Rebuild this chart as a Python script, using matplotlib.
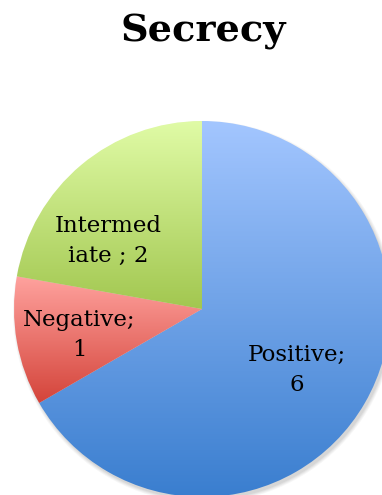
import matplotlib
matplotlib.use("Agg")
import matplotlib.pyplot as plt
import numpy as np
from matplotlib.colors import LinearSegmentedColormap
from matplotlib.patches import Circle

labels = ["Positive", "Negative", "Intermed\niate "]
values = [6, 1, 2]
title = "Secrecy"

# top / bottom colours of each slice's vertical gradient
grad_top = ["#a3c6ff", "#ffa29e", "#e0fba6"]
grad_bot = ["#3a7ecf", "#d4443a", "#a2c750"]

W, H = 382, 495
fig = plt.figure(figsize=(W / 100, H / 100), dpi=100)
ax = fig.add_axes([0, 0, 1, 1])
ax.set_xlim(0, W)
ax.set_ylim(0, H)
ax.set_aspect("equal")
ax.axis("off")

cx, cy, r = 202, H - 309, 188

# soft drop shadow
for i, a in enumerate([0.05, 0.06, 0.07, 0.08]):
    ax.add_patch(Circle((cx + 2, cy - 3), r + 3 - i, color="#555555", alpha=a, lw=0, zorder=0))

wedges, _ = ax.pie(values, center=(cx, cy), radius=r, startangle=90,
                   counterclock=False, frame=True,
                   wedgeprops=dict(linewidth=0))

grad = np.linspace(0, 1, 256).reshape(-1, 1)
for w, c0, c1 in zip(wedges, grad_top, grad_bot):
    w.set_facecolor("none")
    bb = w.get_path().get_extents()
    cmap = LinearSegmentedColormap.from_list("g", [c1, c0])
    im = ax.imshow(grad, cmap=cmap, aspect="auto", origin="lower",
                   extent=(bb.x0, bb.x1, bb.y0, bb.y1), zorder=1)
    im.set_clip_path(w)

ax.set_xlim(0, W)
ax.set_ylim(0, H)
ax.axis("off")

font = "DejaVu Serif"
texts = [f"{l};\n{v}" for l, v in zip(labels, values)]
texts[2] = f"{labels[2]}; {values[2]}"
pos = [(297, H - 370), (79, H - 335), (108, H - 241)]
for t, (x, y) in zip(texts, pos):
    ax.text(x, y, t, ha="center", va="center", fontsize=16.5, family=font,
            linespacing=1.45, zorder=3)

fig.text(203 / W, 1 - 42 / H, title, ha="center", va="baseline",
         fontsize=27.5, fontweight="bold", family=font)

fig.savefig("out.png", dpi=100)
